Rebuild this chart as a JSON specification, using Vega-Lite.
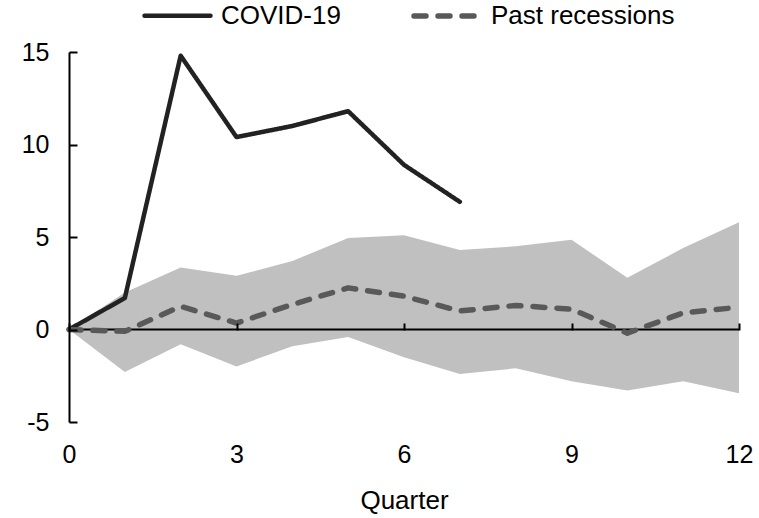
{
  "$schema": "https://vega.github.io/schema/vega-lite/v6.json",
  "autosize": {"type": "none"},
  "padding": {"left": 69, "top": 52, "right": 20, "bottom": 96},
  "width": 670,
  "height": 370,
  "config": {
    "font": "Liberation Sans",
    "view": {"stroke": null},
    "axis": {"labelFont": "Liberation Sans", "titleFont": "Liberation Sans", "labelColor": "#000000", "titleColor": "#000000", "grid": false}
  },
  "datasets": {
    "band": [
      {"q": 0, "lo": 0, "hi": 0},
      {"q": 1, "lo": -2.3, "hi": 2.0},
      {"q": 2, "lo": -0.8, "hi": 3.35},
      {"q": 3, "lo": -2.0, "hi": 2.9},
      {"q": 4, "lo": -0.9, "hi": 3.7},
      {"q": 5, "lo": -0.4, "hi": 4.95},
      {"q": 6, "lo": -1.5, "hi": 5.1},
      {"q": 7, "lo": -2.4, "hi": 4.3},
      {"q": 8, "lo": -2.1, "hi": 4.5},
      {"q": 9, "lo": -2.8, "hi": 4.85},
      {"q": 10, "lo": -3.3, "hi": 2.8},
      {"q": 11, "lo": -2.8, "hi": 4.4},
      {"q": 12, "lo": -3.45, "hi": 5.8}
    ],
    "zero": [{"y0": 0}],
    "lines": [
      {"q": 0, "series": "COVID-19", "value": 0},
      {"q": 1, "series": "COVID-19", "value": 1.7},
      {"q": 2, "series": "COVID-19", "value": 14.8},
      {"q": 3, "series": "COVID-19", "value": 10.4},
      {"q": 4, "series": "COVID-19", "value": 11.0},
      {"q": 5, "series": "COVID-19", "value": 11.8},
      {"q": 6, "series": "COVID-19", "value": 8.9},
      {"q": 7, "series": "COVID-19", "value": 6.9},
      {"q": 0, "series": "Past recessions", "value": 0},
      {"q": 1, "series": "Past recessions", "value": -0.1},
      {"q": 2, "series": "Past recessions", "value": 1.25},
      {"q": 3, "series": "Past recessions", "value": 0.35},
      {"q": 4, "series": "Past recessions", "value": 1.35},
      {"q": 5, "series": "Past recessions", "value": 2.25},
      {"q": 6, "series": "Past recessions", "value": 1.8},
      {"q": 7, "series": "Past recessions", "value": 1.0},
      {"q": 8, "series": "Past recessions", "value": 1.3},
      {"q": 9, "series": "Past recessions", "value": 1.1},
      {"q": 10, "series": "Past recessions", "value": -0.2},
      {"q": 11, "series": "Past recessions", "value": 0.9},
      {"q": 12, "series": "Past recessions", "value": 1.2}
    ]
  },
  "layer": [
    {
      "data": {"name": "band"},
      "mark": {"type": "area", "color": "#c0c0c0", "opacity": 1},
      "encoding": {
        "x": {
          "field": "q", "type": "quantitative",
          "scale": {"domain": [0, 12], "nice": false, "zero": false},
          "axis": {
            "values": [0, 3, 6, 9, 12],
            "labelExpr": "datum.value",
            "labelFlush": false,
            "orient": "bottom",
            "offset": -92,
            "domain": false,
            "ticks": true,
            "tickSize": -7,
            "tickWidth": 2,
            "tickColor": "#000000",
            "labelPadding": 119,
            "labelFontSize": 25,
            "title": "Quarter",
            "titleFontSize": 26,
            "titleFontWeight": "normal",
            "titlePadding": 20,
            "zindex": 1
          }
        },
        "y": {
          "field": "lo", "type": "quantitative",
          "scale": {"domain": [-5, 15], "nice": false, "zero": false},
          "axis": {
            "values": [-5, 0, 5, 10, 15],
            "labelExpr": "datum.value",
            "domain": true,
            "domainColor": "#000000",
            "domainWidth": 2,
            "tickSize": -8,
            "tickWidth": 2,
            "tickColor": "#000000",
            "labelPadding": 28,
            "labelFontSize": 25,
            "title": null,
            "zindex": 1
          }
        },
        "y2": {"field": "hi"}
      }
    },
    {
      "data": {"name": "zero"},
      "mark": {"type": "rule", "color": "#000000", "strokeWidth": 2},
      "encoding": {"y": {"field": "y0", "type": "quantitative"}}
    },
    {
      "data": {"name": "lines"},
      "mark": {"type": "line", "strokeCap": "round", "strokeJoin": "round"},
      "encoding": {
        "x": {"field": "q", "type": "quantitative"},
        "y": {"field": "value", "type": "quantitative"},
        "color": {
          "field": "series", "type": "nominal",
          "scale": {"domain": ["COVID-19", "Past recessions"], "range": ["#222222", "#595959"]},
          "legend": {
            "orient": "none",
            "legendX": 73,
            "legendY": -72,
            "direction": "horizontal",
            "title": null,
            "symbolType": "stroke",
            "symbolSize": 4356,
            "symbolStrokeWidth": 5,
            "labelFontSize": 26,
            "labelFont": "Liberation Sans",
            "labelColor": "#000000",
            "labelOffset": 8,
            "labelLimit": 400,
            "columnPadding": 62,
            "encode": {"symbols": {"update": {"strokeCap": {"value": "round"}}}}
          }
        },
        "strokeDash": {
          "field": "series", "type": "nominal",
          "scale": {"domain": ["COVID-19", "Past recessions"], "range": [[1, 0], [12, 12]]}
        },
        "strokeWidth": {
          "field": "series", "type": "nominal",
          "scale": {"domain": ["COVID-19", "Past recessions"], "range": [4.5, 5.5]},
          "legend": null
        }
      }
    }
  ]
}
